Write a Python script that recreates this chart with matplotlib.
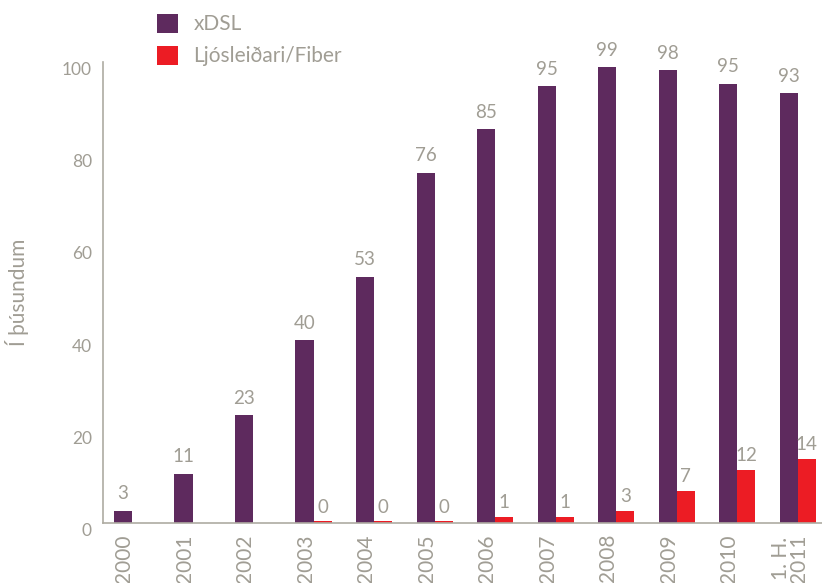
import numpy as np
import matplotlib
matplotlib.use("Agg")
import matplotlib.pyplot as plt
from matplotlib.patches import Patch

categories = ["2000", "2001", "2002", "2003", "2004", "2005", "2006", "2007",
              "2008", "2009", "2010", "1. H.\n2011"]
xdsl = [2.7, 10.7, 23.4, 39.6, 53.4, 76.0, 85.4, 94.8, 98.9, 98.3, 95.3, 93.2]
fiber = [np.nan, np.nan, np.nan, 0.4, 0.4, 0.4, 1.3, 1.3, 2.6, 7.0, 11.6, 13.9]
yticks = [0, 20, 40, 60, 80, 100]
series_names = ["xDSL", "Ljósleiðari/Fiber"]
ylabel = "Í þúsundum"

PURPLE = "#5e2a5e"
RED = "#ec1c24"
GRAY = "#a09d94"
SPINE = "#aeaba2"

plt.rcParams['font.family'] = ['Lato', 'DejaVu Sans']

fig = plt.figure(figsize=(8.22, 5.83), dpi=100)
ax = fig.add_axes([103/822, 1-523/583, 1-103/822, (523-62)/583])

x = np.arange(len(categories))
w = 0.3
ax.bar(x - w/2, xdsl, width=w, color=PURPLE)
fx = [xi for xi, v in zip(x, fiber) if not np.isnan(v)]
fv = [v for v in fiber if not np.isnan(v)]
ax.bar(np.array(fx) + w/2, fv, width=w, color=RED)

for xi, v in zip(x, xdsl):
    ax.annotate(f"{round(v)}", (xi - w/2, v), xytext=(0, 6), textcoords="offset points",
                ha="center", va="bottom", fontsize=13.5, color=GRAY)
for xi, v in zip(fx, fv):
    ax.annotate(f"{round(v)}", (xi + w/2, v), xytext=(0, 4), textcoords="offset points",
                ha="center", va="bottom", fontsize=13.5, color=GRAY)

ax.set_xlim(-0.48, len(categories) - 0.6)
ax.set_ylim(0, 100)
ax.set_yticks(yticks)
ax.set_yticklabels([str(t) for t in yticks])
for lab in ax.get_yticklabels():
    lab.set_verticalalignment("top")
ax.set_xticks(x - 0.13)
ax.set_xticklabels(categories, rotation=90, ha="center", va="top", multialignment="center")
ax.tick_params(axis="y", length=0, pad=8, labelsize=12.5, labelcolor=GRAY)
ax.tick_params(axis="x", length=0, pad=8, labelsize=15, labelcolor=GRAY)
for lab in ax.get_xticklabels():
    lab.set_linespacing(0.9)

for s in ["top", "right"]:
    ax.spines[s].set_visible(False)
for s in ["left", "bottom"]:
    ax.spines[s].set_color(SPINE)
    ax.spines[s].set_linewidth(1.2)

ax.set_ylabel(ylabel, fontsize=15, color=GRAY)
ax.yaxis.set_label_coords(-0.103, 0.50)

handles = [Patch(facecolor=PURPLE, edgecolor="none"), Patch(facecolor=RED, edgecolor="none")]
leg = fig.legend(handles, series_names, loc="upper left", bbox_to_anchor=(157/822, 1-14/583),
                 frameon=False, fontsize=15, handlelength=1.0, handleheight=1.0,
                 handletextpad=0.75, labelspacing=0.55, borderpad=0, borderaxespad=0)
for t in leg.get_texts():
    t.set_color(GRAY)

fig.savefig("out.png", dpi=100)
